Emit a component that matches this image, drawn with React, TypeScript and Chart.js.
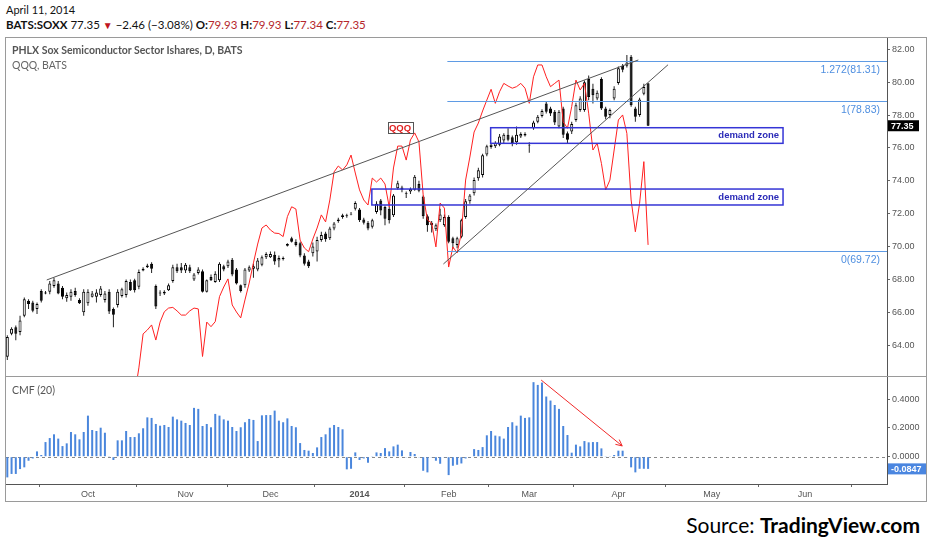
import React, { useEffect, useRef } from 'react';
import { Chart, registerables } from 'chart.js';
Chart.register(...registerables);

// ---------- data (bar index 0 = early Sept 2013, last = Apr 11 2014) ----------
const opens = [63.3,64.7,65.1,64.8,65.8,66.7,66.6,66.2,67.3,67.2,67.25,67.6,67.75,67.5,66.85,66.95,67.3,66.75,66.0,66.55,66.95,66.95,67.05,66.75,67.25,66.2,66.45,67.0,67.05,67.85,67.95,67.55,68.55,68.85,68.95,67.6,67.15,67.15,67.35,67.9,68.75,68.75,68.55,68.75,68.0,68.4,68.5,67.25,68.15,67.85,67.95,68.8,68.8,69.2,68.6,67.65,67.65,68.55,68.65,68.6,68.9,69.35,69.35,69.5,69.15,69.25,70.15,70.5,70.3,70.2,69.45,69.1,69.6,69.7,70.4,70.8,70.5,71.1,71.65,71.8,71.9,72.0,72.3,72.25,71.65,71.45,71.2,72.1,72.8,72.4,72.3,71.9,73.55,73.6,73.2,73.35,73.45,73.8,73.05,71.85,71.45,71.05,71.6,71.3,71.8,70.5,70.1,70.6,71.8,72.75,73.25,74.15,74.35,75.6,76.05,76.1,76.2,76.45,76.8,76.65,76.35,76.7,76.85,76.15,77.2,77.6,77.95,78.7,78.4,78.2,77.3,78.4,76.9,77.0,77.7,78.3,78.3,80.2,79.6,79.0,80.2,78.4,78.0,79.0,79.95,81.0,81.0,81.55,78.4,78.0,79.3,79.93];
const highs = [64.6,65.1,65.2,65.8,66.9,66.8,66.7,66.6,67.4,67.3,67.9,68.1,67.9,67.6,67.2,67.4,67.5,66.85,67.4,67.4,67.3,67.4,67.6,67.3,67.4,66.3,67.4,67.5,68.0,68.0,68.05,68.6,68.75,68.95,69.05,67.7,67.35,67.35,67.75,68.9,68.95,69.0,69.0,68.9,68.4,68.75,68.6,68.0,68.3,68.5,69.05,68.9,69.2,69.3,68.7,67.7,68.7,68.85,68.95,69.3,69.45,69.65,69.7,69.7,69.45,69.4,70.2,70.6,70.45,70.3,69.6,69.2,70.25,70.6,70.9,70.9,71.2,71.5,71.75,72.0,72.0,72.1,72.75,72.35,71.75,71.55,71.7,72.75,72.9,72.5,72.4,73.2,74.0,73.7,73.35,73.6,74.35,74.0,73.1,71.95,71.55,71.4,72.3,71.95,71.9,70.6,70.6,71.7,72.9,73.2,74.2,74.8,75.65,76.2,76.3,76.4,76.85,76.9,77.2,76.75,77.3,76.95,76.95,76.35,77.65,78.0,78.35,78.85,78.5,78.3,78.3,78.5,77.0,77.6,78.75,79.15,80.1,80.4,79.9,79.5,80.3,78.5,78.4,79.75,80.95,81.1,81.65,81.65,78.5,79.05,79.9,79.93];
const lows = [63.1,64.6,64.3,64.6,65.7,66.2,66.0,65.9,66.6,67.1,67.1,67.5,67.1,66.8,66.65,66.7,66.95,66.5,65.8,66.4,66.9,66.6,66.95,66.6,65.9,65.1,66.3,66.9,66.9,67.3,67.2,67.4,68.5,68.7,68.4,66.2,67.0,67.05,67.3,67.8,68.4,68.4,68.4,68.4,67.9,68.3,67.2,67.2,67.9,67.8,67.85,68.5,68.7,68.2,67.7,67.2,67.5,68.45,68.1,68.5,68.8,69.25,69.3,68.9,68.75,69.15,70.0,70.25,70.0,69.35,68.85,68.7,69.4,69.1,70.3,70.3,70.4,71.0,71.45,71.7,71.75,71.9,72.2,71.5,71.35,71.0,71.1,72.0,71.9,71.3,71.4,71.8,73.45,73.3,72.95,73.2,73.4,73.3,71.7,70.9,70.85,70.95,71.5,71.2,70.2,69.85,69.9,70.5,71.7,72.6,73.1,74.0,74.2,75.5,75.95,76.0,76.1,76.3,76.4,76.1,76.2,76.6,76.7,75.7,77.1,77.5,77.85,78.1,77.95,77.4,77.2,76.6,76.3,76.85,77.6,78.2,78.2,78.9,78.7,78.9,78.3,77.75,77.8,78.9,79.85,80.6,80.9,78.5,77.6,77.9,79.2,77.34];
const closes = [64.5,65.0,64.7,65.5,66.8,66.5,66.1,66.5,66.7,67.15,67.75,67.95,67.15,66.95,67.05,67.25,67.05,66.55,67.25,67.25,67.15,67.2,67.45,67.15,66.05,65.85,67.25,67.4,67.9,67.35,67.35,68.45,68.65,68.75,68.65,66.35,67.2,67.25,67.65,68.75,68.5,68.55,68.9,68.5,68.3,68.6,67.25,67.95,67.95,68.35,68.95,68.6,69.1,68.3,67.75,67.3,68.6,68.75,68.8,69.15,69.35,69.55,69.55,69.1,69.3,69.3,70.05,70.3,70.1,69.45,68.95,68.8,70.0,70.4,70.7,70.45,71.1,71.4,71.55,71.9,71.85,71.95,72.65,71.6,71.45,71.1,71.6,72.6,72.2,71.7,71.6,73.1,73.85,73.45,73.25,73.5,74.25,73.4,71.85,71.3,71.3,71.3,71.95,71.8,70.3,70.2,70.5,71.6,72.75,73.1,74.05,74.65,75.55,76.1,76.2,76.3,76.7,76.8,76.5,76.3,76.8,76.85,76.75,76.2,77.55,77.9,78.25,78.2,78.1,77.55,78.2,76.8,76.5,77.45,78.6,79.0,80.0,79.1,79.2,79.35,78.4,77.9,78.3,79.6,80.85,80.75,81.2,78.6,77.9,78.95,79.7,77.35];
const qqq = [null,null,null,null,null,null,null,null,null,null,null,null,null,null,null,null,null,null,null,null,null,null,null,null,null,null,null,null,null,null,
  75.38,76.62,78.17,78.35,78.58,77.89,78.71,79.18,79.35,79.38,79.22,79.03,79.03,79.22,79.35,79.31,77.14,78.71,78.50,78.73,79.87,80.31,80.68,79.49,79.17,78.90,79.72,80.49,81.41,82.27,83.00,83.14,82.91,82.77,82.75,82.61,83.52,83.97,83.87,82.45,82.09,81.92,82.50,83.00,83.60,83.28,84.28,85.56,85.83,85.65,85.88,86.33,85.51,84.74,84.28,84.05,85.28,85.10,85.28,85.01,83.96,85.74,86.74,86.74,86.10,87.02,87.34,86.93,84.51,83.37,83.23,82.14,84.14,83.91,81.22,82.14,81.86,82.77,85.19,86.24,87.38,87.79,88.34,88.84,89.33,88.69,89.22,89.60,89.48,89.38,89.45,89.60,89.38,88.69,89.90,90.44,90.44,89.90,89.45,89.60,89.75,87.85,87.55,88.54,89.75,89.30,89.60,88.24,86.56,86.87,85.95,84.74,85.19,86.56,87.93,88.16,87.32,84.28,82.83,84.13,86.03,82.23];
const cmf = [-0.144,-0.12,-0.12,-0.086,-0.074,-0.028,-0.012,0.037,0.012,0.102,0.13,0.156,0.126,0.074,0.093,0.172,0.156,0.121,0.172,0.286,0.186,0.179,0.202,0.167,0.002,-0.023,0.114,0.114,0.179,0.137,0.137,0.163,0.198,0.274,0.27,0.228,0.216,0.221,0.207,0.279,0.26,0.251,0.235,0.221,0.34,0.333,0.214,0.228,0.205,0.298,0.286,0.26,0.251,0.207,0.179,0.205,0.24,0.263,0.256,0.109,0.288,0.29,0.29,0.321,0.251,0.24,0.267,0.214,0.205,0.095,0.047,0.042,0.026,0.065,0.137,0.156,0.202,0.221,0.207,0.191,-0.088,-0.084,0.03,-0.023,-0.012,-0.042,0.005,0.03,0.026,0.06,0.037,0.072,0.084,0.044,-0.005,0.033,0.019,-0.005,-0.098,-0.109,-0.005,-0.028,-0.049,-0.005,-0.128,-0.063,-0.056,-0.047,-0.012,-0.005,0.053,0.047,0.067,0.149,0.179,0.147,0.142,0.126,0.207,0.24,0.216,0.286,0.27,0.274,0.519,0.5,0.516,0.419,0.391,0.36,0.333,0.214,0.151,0.028,0.084,0.072,0.109,0.1,0.102,0.102,0.058,0.002,0.002,0.012,0.042,0.042,-0.005,-0.074,-0.109,-0.084,-0.084,-0.0847];
const monthTickIdx = [19, 42, 62, 83, 104, 123, 144, 166, 188];
const monthLabels = ['Oct', 'Nov', 'Dec', '2014', 'Feb', 'Mar', 'Apr', 'May', 'Jun'];
const priceTicks = [64, 66, 68, 70, 72, 74, 76, 78, 80, 82];
const cmfTicks = [0, 0.2, 0.4];
const fibLevels = [
  { ratio: '1.272', value: 81.31 },
  { ratio: '1', value: 78.83 },
  { ratio: '0', value: 69.72 },
];
const fibStartIdx = 103.7;
const demandZones = [
  { from: 113.9, to: 182.8, top: 77.23, bottom: 76.28 },
  { from: 85.9, to: 182.8, top: 73.5, bottom: 72.53 },
];
const trendLines = [
  { x1: 9.29, y1: 67.97, x2: 148.7, y2: 81.35 },
  { x1: 102.76, y1: 68.94, x2: 155.7, y2: 81.06 },
];
const qqqTag = { idx: 92.55, price: 77.26 };
const cmfArrow = { x1: 125.8, y1: 0.534, x2: 144.9, y2: 0.075 };

const X_MIN = -0.31;
const X_MAX = 207.3;
const FONT = 'Liberation Sans, Arial, sans-serif';

const up = (i: number) => closes[i] >= opens[i];
const noPad = (s: any) => {
  s.paddingTop = 0;
  s.paddingBottom = 0;
  s.paddingLeft = 0;
  s.paddingRight = 0;
};

export default function App() {
  const mainRef = useRef<HTMLCanvasElement>(null);
  const cmfRef = useRef<HTMLCanvasElement>(null);

  useEffect(() => {
    Chart.defaults.font.family = FONT;
    const mainOverlay = {
      id: 'mainOverlay',
      afterDatasetsDraw(chart: any) {
        const { ctx, chartArea: a, scales } = chart;
        const xs = scales.x, ys = scales.y;
        ctx.save();
        ctx.beginPath();
        ctx.rect(a.left, a.top, a.right - a.left, a.bottom - a.top);
        ctx.clip();
        fibLevels.forEach((f) => {
          const y = Math.round(ys.getPixelForValue(f.value)) + 0.5;
          ctx.strokeStyle = '#5f9be4';
          ctx.lineWidth = 1;
          ctx.beginPath();
          ctx.moveTo(xs.getPixelForValue(fibStartIdx), y);
          ctx.lineTo(a.right, y);
          ctx.stroke();
          ctx.fillStyle = '#4f8fe0';
          ctx.font = `10.5px ${FONT}`;
          ctx.textAlign = 'right';
          ctx.textBaseline = 'top';
          ctx.fillText(`${f.ratio}(${f.value.toFixed(2)})`, a.right - 7, y + 3);
        });
        demandZones.forEach((z) => {
          const x1 = xs.getPixelForValue(z.from), x2 = xs.getPixelForValue(z.to);
          const y1 = ys.getPixelForValue(z.top), y2 = ys.getPixelForValue(z.bottom);
          ctx.strokeStyle = '#3535d6';
          ctx.lineWidth = 1.5;
          ctx.strokeRect(x1, y1, x2 - x1, y2 - y1);
          ctx.fillStyle = '#2b2bb8';
          ctx.font = `bold 9.5px ${FONT}`;
          ctx.textAlign = 'right';
          ctx.textBaseline = 'middle';
          ctx.fillText('demand zone', x2 - 4, (y1 + y2) / 2);
        });
        trendLines.forEach((t) => {
          ctx.strokeStyle = '#555';
          ctx.lineWidth = 1;
          ctx.beginPath();
          ctx.moveTo(xs.getPixelForValue(t.x1), ys.getPixelForValue(t.y1));
          ctx.lineTo(xs.getPixelForValue(t.x2), ys.getPixelForValue(t.y2));
          ctx.stroke();
        });
        const qx = xs.getPixelForValue(qqqTag.idx), qy = ys.getPixelForValue(qqqTag.price);
        ctx.fillStyle = '#fff';
        ctx.fillRect(qx - 12.5, qy - 5.5, 25, 11);
        ctx.strokeStyle = '#555';
        ctx.lineWidth = 1;
        ctx.strokeRect(Math.round(qx - 12.5) + 0.5, Math.round(qy - 5.5) + 0.5, 25, 11);
        ctx.fillStyle = '#e01e1e';
        ctx.font = `bold 9.5px ${FONT}`;
        ctx.textAlign = 'center';
        ctx.textBaseline = 'middle';
        ctx.fillText('QQQ', qx, qy + 1);
        ctx.restore();
        const last = closes[closes.length - 1];
        const ly = ys.getPixelForValue(last);
        ctx.save();
        ctx.fillStyle = '#000';
        ctx.fillRect(a.right + 1, ly - 5.5, 31, 11);
        ctx.fillStyle = '#fff';
        ctx.font = `bold 9px ${FONT}`;
        ctx.textAlign = 'left';
        ctx.textBaseline = 'middle';
        ctx.fillText(last.toFixed(2), a.right + 4, ly + 0.5);
        ctx.restore();
      },
    };

    const main = new Chart(mainRef.current!, {
      type: 'bar',
      data: {
        datasets: [
          {
            type: 'line',
            data: qqq.map((v, i) => ({ x: i, y: v })),
            yAxisID: 'yq',
            borderColor: '#ff2020',
            borderWidth: 1,
            pointRadius: 0,
            tension: 0,
            order: 1,
          } as any,
          {
            data: opens.map((o, i) => ({ x: i, y: [o, closes[i]] })),
            backgroundColor: opens.map((_, i) => (up(i) ? '#ffffff' : '#000000')),
            borderColor: '#000',
            borderWidth: 1,
            borderSkipped: false,
            barThickness: 3,
            grouped: false,
            inflateAmount: 0,
            order: 2,
          },
          {
            data: lows.map((l, i) => ({ x: i, y: [l, highs[i]] })),
            backgroundColor: '#222',
            borderWidth: 0,
            barThickness: 1,
            grouped: false,
            inflateAmount: 0,
            order: 3,
          },
        ],
      },
      options: {
        responsive: false,
        animation: false,
        events: [],
        layout: { padding: 0 },
        plugins: { legend: { display: false }, tooltip: { enabled: false } },
        scales: {
          x: { type: 'linear', min: X_MIN, max: X_MAX, display: false, offset: false },
          y: {
            position: 'right',
            min: 62.128,
            max: 82.687,
            afterBuildTicks: (s: any) => { s.ticks = priceTicks.map((v) => ({ value: v })); },
            afterFit: (s: any) => { s.width = 39; noPad(s); },
            ticks: { callback: (v: any) => Number(v).toFixed(2), color: '#555', font: { size: 9 }, padding: 2 },
            grid: { display: true, drawOnChartArea: false, tickLength: 3, color: '#666' },
            border: { display: true, color: '#555' },
          },
          yq: { display: false, min: 76.25, max: 91.67 },
        },
      } as any,
      plugins: [mainOverlay],
    });

    const cmfOverlay = {
      id: 'cmfOverlay',
      beforeDatasetsDraw(chart: any) {
        const { ctx, chartArea: a, scales } = chart;
        const y = Math.round(scales.y.getPixelForValue(0)) + 0.5;
        ctx.save();
        ctx.strokeStyle = '#888';
        ctx.setLineDash([3, 3]);
        ctx.lineWidth = 1;
        ctx.beginPath();
        ctx.moveTo(a.left, y);
        ctx.lineTo(a.right, y);
        ctx.stroke();
        ctx.restore();
      },
      afterDatasetsDraw(chart: any) {
        const { ctx, chartArea: a, scales } = chart;
        const xs = scales.x, ys = scales.y;
        const x1 = xs.getPixelForValue(cmfArrow.x1), y1 = ys.getPixelForValue(cmfArrow.y1);
        const x2 = xs.getPixelForValue(cmfArrow.x2), y2 = ys.getPixelForValue(cmfArrow.y2);
        ctx.save();
        ctx.strokeStyle = '#f02a2a';
        ctx.lineWidth = 1;
        ctx.beginPath();
        ctx.moveTo(x1, y1);
        ctx.lineTo(x2, y2);
        const ang = Math.atan2(y2 - y1, x2 - x1);
        const L = 7;
        ctx.moveTo(x2, y2);
        ctx.lineTo(x2 - L * Math.cos(ang - 0.45), y2 - L * Math.sin(ang - 0.45));
        ctx.moveTo(x2, y2);
        ctx.lineTo(x2 - L * Math.cos(ang + 0.45), y2 - L * Math.sin(ang + 0.45));
        ctx.stroke();
        const last = cmf[cmf.length - 1];
        const ly = ys.getPixelForValue(last);
        ctx.fillStyle = '#4a86e0';
        ctx.fillRect(a.right + 1, ly - 5.5, 38, 11);
        ctx.fillStyle = '#fff';
        ctx.font = `bold 9px ${FONT}`;
        ctx.textAlign = 'left';
        ctx.textBaseline = 'middle';
        ctx.fillText(last.toFixed(4), a.right + 4, ly + 0.5);
        ctx.restore();
      },
    };

    const cmfChart = new Chart(cmfRef.current!, {
      type: 'bar',
      data: {
        datasets: [
          {
            data: cmf.map((v, i) => ({ x: i, y: v })),
            backgroundColor: '#4a86dc',
            borderWidth: 0,
            barThickness: 2,
            inflateAmount: 0,
          },
        ],
      },
      options: {
        responsive: false,
        animation: false,
        events: [],
        layout: { padding: 0 },
        plugins: { legend: { display: false }, tooltip: { enabled: false } },
        scales: {
          x: {
            type: 'linear',
            min: X_MIN,
            max: X_MAX,
            offset: false,
            afterBuildTicks: (s: any) => { s.ticks = monthTickIdx.map((v) => ({ value: v })); },
            afterFit: (s: any) => { s.height = 16; noPad(s); },
            ticks: {
              autoSkip: false,
              maxRotation: 0,
              padding: 2,
              color: '#555',
              callback: (_v: any, i: number) => monthLabels[i],
              font: (c: any) => ({ size: 9, weight: monthLabels[c.index] === '2014' ? 'bold' : 'normal' }),
            },
            grid: { display: true, drawOnChartArea: false, tickLength: 3, color: '#666' },
            border: { display: true, color: '#555' },
          },
          y: {
            position: 'right',
            min: -0.19,
            max: 0.555,
            afterBuildTicks: (s: any) => { s.ticks = cmfTicks.map((v) => ({ value: v })); },
            afterFit: (s: any) => { s.width = 39; noPad(s); },
            ticks: { callback: (v: any) => Number(v).toFixed(4), color: '#555', font: { size: 9 }, padding: 2 },
            grid: { display: true, drawOnChartArea: false, tickLength: 3, color: '#666' },
            border: { display: true, color: '#555' },
          },
        },
      } as any,
      plugins: [cmfOverlay],
    });

    return () => {
      main.destroy();
      cmfChart.destroy();
    };
  }, []);

  const txt = { fontFamily: 'Lato, sans-serif', position: 'absolute' as const, whiteSpace: 'nowrap' as const };
  const red = { color: '#b5262b' };

  return (
    <div style={{ position: 'absolute', left: 0, top: 0, width: 932, height: 550, background: '#fff', overflow: 'hidden' }}>
      <div style={{ ...txt, left: 6, top: 3, fontSize: 11, color: '#111' }}>April 11, 2014</div>
      <div style={{ ...txt, left: 6, top: 18, fontSize: 11.5, color: '#111' }}>
        <b>BATS:SOXX</b> 77.35 <span style={{ color: '#c0161d', fontSize: 10 }}>▼</span> −2.46 (−3.08%){' '}
        <b>O:</b><span style={red}>79.93</span> <b>H:</b><span style={red}>79.93</span>{' '}
        <b>L:</b><span style={red}>77.34</span> <b>C:</b><span style={red}>77.35</span>
      </div>
      <div style={{ position: 'absolute', left: 5, top: 37, width: 922, height: 465, border: '1px solid #9a9a9a', boxSizing: 'border-box' }} />
      <canvas ref={mainRef} width={920} height={338} style={{ position: 'absolute', left: 6, top: 38, width: 920, height: 338 }} />
      <div style={{ position: 'absolute', left: 6, top: 376, width: 920, height: 1, background: '#9a9a9a' }} />
      <canvas ref={cmfRef} width={920} height={123} style={{ position: 'absolute', left: 6, top: 377, width: 920, height: 123 }} />
      <div style={{ ...txt, left: 12, top: 44, fontSize: 10.5, fontWeight: 'bold', color: '#555', letterSpacing: 0 }}>
        PHLX Sox Semiconductor Sector Ishares, D, BATS
      </div>
      <div style={{ ...txt, left: 12, top: 59, fontSize: 10.5, color: '#666' }}>QQQ, BATS</div>
      <div style={{ ...txt, left: 12, top: 384, fontSize: 10.5, color: '#555' }}>CMF (20)</div>
      <div style={{ ...txt, right: 12, top: 512, fontSize: 21, color: '#000' }}>
        Source: <b>TradingView.com</b>
      </div>
    </div>
  );
}
